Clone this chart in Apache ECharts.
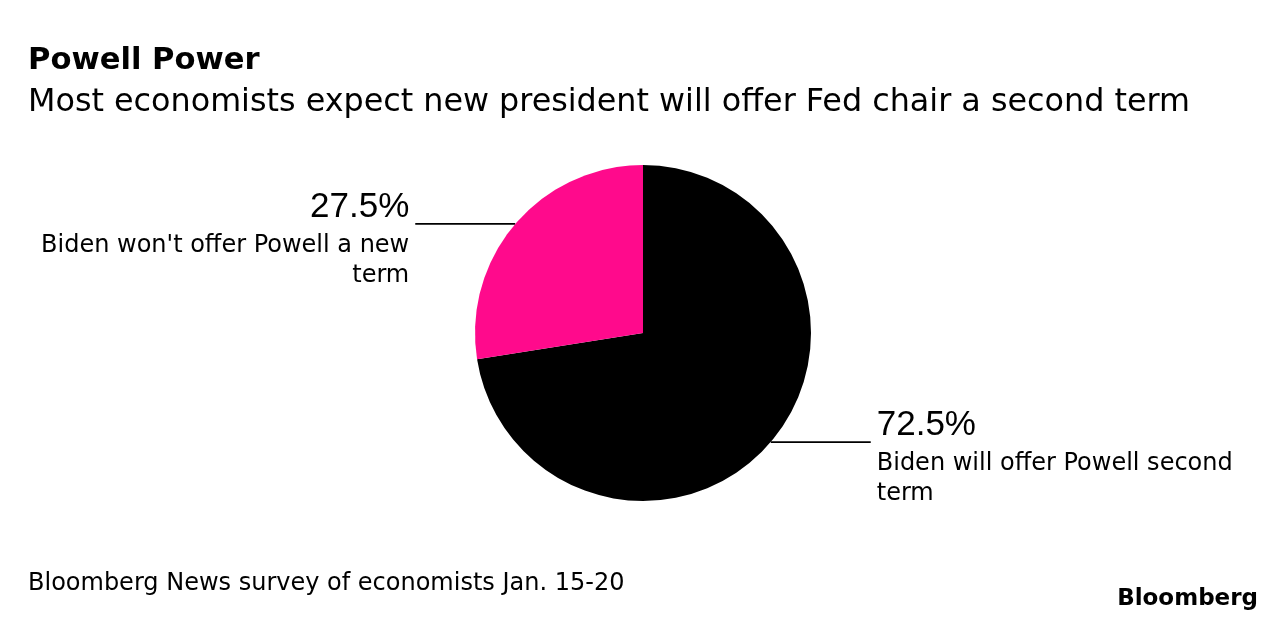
<!DOCTYPE html>
<html><head><meta charset="utf-8">
<script src="https://cdn.jsdelivr.net/npm/echarts@6/dist/echarts.min.js"></script>
<style>html,body{margin:0;padding:0;background:#fff}#c{width:1287px;height:624px}</style>
</head><body><div id="c"></div>
<script>
const categories = ["Biden will offer Powell second term", "Biden won't offer Powell a new term"];
const labelTexts = ["Biden will offer Powell second\nterm", "Biden won't offer Powell a new\nterm"];
const values = [72.5, 27.5];
const colors = ["#000000", "#ff0a8c"];

const FONT = "'DejaVu Sans', sans-serif";
const NUMFONT = "'Liberation Sans', Arial, Helvetica, sans-serif";
const chart = echarts.init(document.getElementById('c'));
const data = categories.map((name, i) => ({
  name: name,
  value: values[i],
  itemStyle: { color: colors[i] },
  label: {
    align: i === 0 ? 'left' : 'right',
    padding: [26, 0, 0, 0],
    formatter: () => '{p|' + values[i].toFixed(1) + '%}\n{d|' + labelTexts[i].split('\n').join('}\n{d|') + '}',
    rich: {
      p: { fontFamily: NUMFONT, fontSize: 35, color: '#000', lineHeight: 47, align: i === 0 ? 'left' : 'right' },
      d: { fontFamily: FONT, fontSize: 24, color: '#000', lineHeight: 30, align: i === 0 ? 'left' : 'right' }
    }
  }
}));
chart.setOption({
  animation: false,
  backgroundColor: '#fff',
  title: [
    { text: 'Powell Power', left: 23, top: 41, textStyle: { fontFamily: FONT, fontSize: 30.6, fontWeight: 'bold', color: '#000' } },
    { text: 'Most economists expect new president will offer Fed chair a second term', left: 23, top: 82, textStyle: { fontFamily: FONT, fontSize: 31.8, fontWeight: 'normal', color: '#000' } },
    { text: 'Bloomberg News survey of economists Jan. 15-20', left: 23, top: 567, textStyle: { fontFamily: FONT, fontSize: 24, fontWeight: 'normal', color: '#000' } },
    { text: 'Bloomberg', right: 24, top: 583, textStyle: { fontFamily: FONT, fontSize: 23, fontWeight: 'bold', color: '#000' } }
  ],
  series: [{
    type: 'pie',
    center: [643, 333],
    radius: [0, 168],
    startAngle: 90,
    clockwise: true,
    avoidLabelOverlap: false,
    label: { show: true, position: 'outside', distanceToLabelLine: 6 },
    labelLine: { show: true, length: 0, length2: 100, smooth: false, lineStyle: { color: '#000', width: 1.6 } },
    emphasis: { disabled: true },
    data: data
  }]
});
</script></body></html>
